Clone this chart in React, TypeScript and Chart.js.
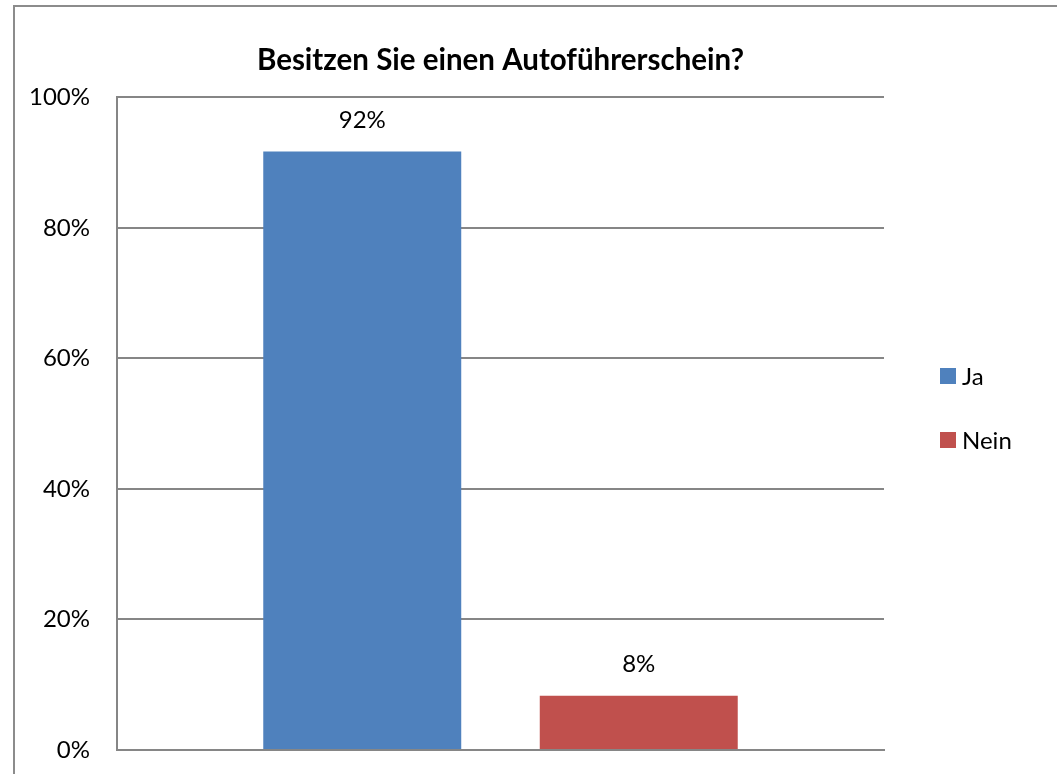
import { useEffect, useRef } from "react";
import { Chart, registerables } from "chart.js";

Chart.register(...registerables);

const chartTitle = "Besitzen Sie einen Autoführerschein?";
const categories = [""];
const seriesNames = ["Ja", "Nein"];
const jaValues = [91.7];
const neinValues = [8.3];
const seriesColors = ["#4F81BD", "#C0504D"];
const yTickValues = [0, 20, 40, 60, 80, 100];

const FONT = "Lato, 'Open Sans', sans-serif";
const AXIS_GRAY = "#868686";

const frameAndLegendPlugin = {
  id: "frameAndLegend",
  afterDraw(chart: any) {
    const ctx = chart.ctx;
    ctx.save();
    // outer frame (cut off at right/bottom like the reference)
    ctx.strokeStyle = "#8c8c8c";
    ctx.lineWidth = 2;
    ctx.beginPath();
    ctx.moveTo(14, chart.height + 5);
    ctx.lineTo(14, 6);
    ctx.lineTo(chart.width + 5, 6);
    ctx.stroke();

    // data labels above bars
    ctx.fillStyle = "#000";
    ctx.font = `24px ${FONT}`;
    ctx.textAlign = "center";
    ctx.textBaseline = "alphabetic";
    chart.data.datasets.forEach((ds: any, i: number) => {
      const meta = chart.getDatasetMeta(i);
      meta.data.forEach((bar: any, j: number) => {
        const v = ds.data[j];
        ctx.fillText(`${Math.round(v)}%`, bar.x, bar.y - 24);
      });
    });

    // legend
    const boxX = 940;
    const textX = 962;
    const startY = 376;
    const step = 64;
    ctx.textAlign = "left";
    ctx.textBaseline = "middle";
    ctx.font = `24px ${FONT}`;
    chart.data.datasets.forEach((ds: any, i: number) => {
      const cy = startY + i * step;
      ctx.fillStyle = ds.backgroundColor;
      ctx.fillRect(boxX, cy - 8, 16, 16);
      ctx.fillStyle = "#000";
      ctx.fillText(ds.label, textX, cy + 1);
    });
    ctx.restore();
  },
};

export default function App() {
  const canvasRef = useRef<HTMLCanvasElement | null>(null);

  useEffect(() => {
    document.body.style.margin = "0";
    const canvas = canvasRef.current;
    if (!canvas) return;
    const chart = new Chart(canvas, {
      type: "bar",
      data: {
        labels: categories,
        datasets: [
          {
            label: seriesNames[0],
            data: jaValues,
            backgroundColor: seriesColors[0],
            borderWidth: 0,
          },
          {
            label: seriesNames[1],
            data: neinValues,
            backgroundColor: seriesColors[1],
            borderWidth: 0,
          },
        ],
      },
      options: {
        animation: false,
        responsive: false,
        devicePixelRatio: 1,
        layout: {
          padding: { left: 20, right: 173, top: 0, bottom: 24 },
        },
        datasets: {
          bar: {
            categoryPercentage: 0.721,
            barPercentage: 0.716,
          },
        },
        plugins: {
          legend: { display: false },
          tooltip: { enabled: false },
          title: {
            display: true,
            text: chartTitle,
            fullSize: false,
            color: "#000",
            font: { family: FONT, size: 29.5, weight: "bold", lineHeight: 1.2 },
            padding: { top: 43, bottom: 19 },
          },
        },
        scales: {
          x: {
            grid: { display: false, drawTicks: false },
            ticks: { display: false },
            border: { display: true, color: AXIS_GRAY, width: 2 },
          },
          y: {
            min: 0,
            max: 100,
            afterBuildTicks(axis: any) {
              axis.ticks = yTickValues.map((v) => ({ value: v }));
            },
            afterFit(axis: any) {
              axis.width = 97;
            },
            grid: {
              color: AXIS_GRAY,
              lineWidth: 2,
              drawTicks: true,
              tickLength: 27,
              tickColor: "rgba(0,0,0,0)",
            },
            border: { display: true, color: AXIS_GRAY, width: 2 },
            ticks: {
              padding: 0,
              color: "#000",
              font: { family: FONT, size: 24 },
              callback: (v: any) => `${v}%`,
            },
          },
        },
      },
      plugins: [frameAndLegendPlugin],
    });
    return () => chart.destroy();
  }, []);

  return (
    <div style={{ position: "absolute", left: 0, top: 0, width: 1057, height: 774, background: "#fff" }}>
      <canvas ref={canvasRef} width={1057} height={774} style={{ display: "block", width: 1057, height: 774 }} />
    </div>
  );
}
